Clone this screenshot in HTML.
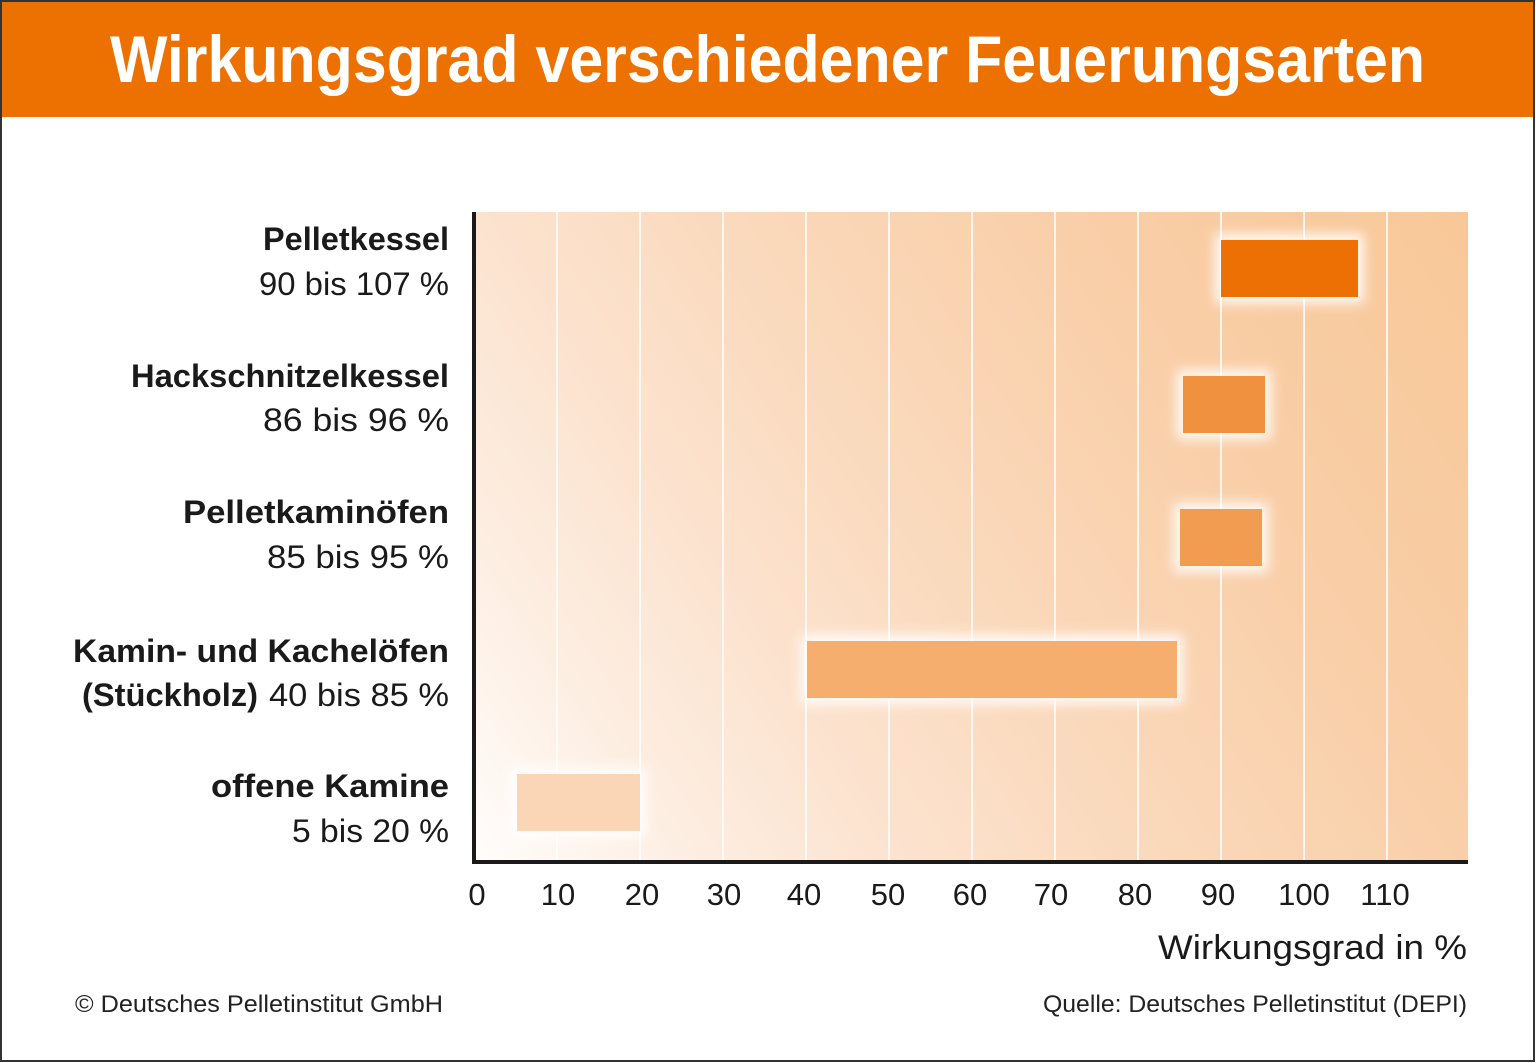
<!DOCTYPE html>
<html><head><meta charset="utf-8"><style>
html,body{margin:0;padding:0;background:#fff;}
svg{display:block;}
text{font-family:"Liberation Sans",sans-serif;}
</style></head><body>
<svg width="1536" height="1063" viewBox="0 0 1536 1063" xmlns="http://www.w3.org/2000/svg">
<defs>
<linearGradient id="bg" gradientUnits="userSpaceOnUse" x1="476" y1="862" x2="1468" y2="212">
<stop offset="0" stop-color="#fffdfb"/>
<stop offset="0.15" stop-color="#fdeee2"/>
<stop offset="0.3" stop-color="#fce3cf"/>
<stop offset="0.5" stop-color="#fad8ba"/>
<stop offset="0.7" stop-color="#f9cfa9"/>
<stop offset="1" stop-color="#f8c898"/>
</linearGradient>
<filter id="glow" x="-30%" y="-60%" width="160%" height="220%"><feGaussianBlur stdDeviation="6"/></filter>
</defs>
<rect x="0" y="0" width="1536" height="1063" fill="#fff"/>
<!-- header -->
<rect x="2" y="2" width="1531" height="115" fill="#ec7100"/>
<text x="110" y="82" font-size="66" font-weight="bold" fill="#fff" textLength="1315" lengthAdjust="spacingAndGlyphs">Wirkungsgrad verschiedener Feuerungsarten</text>
<!-- plot bg -->
<rect x="476" y="212" width="992" height="650" fill="url(#bg)"/>
<!-- grid -->
<g stroke="#fff" stroke-width="2" opacity="0.8">
<line x1="557" y1="212" x2="557" y2="860"/>
<line x1="640" y1="212" x2="640" y2="860"/>
<line x1="723" y1="212" x2="723" y2="860"/>
<line x1="806" y1="212" x2="806" y2="860"/>
<line x1="889" y1="212" x2="889" y2="860"/>
<line x1="972" y1="212" x2="972" y2="860"/>
<line x1="1055" y1="212" x2="1055" y2="860"/>
<line x1="1138" y1="212" x2="1138" y2="860"/>
<line x1="1221" y1="212" x2="1221" y2="860"/>
<line x1="1304" y1="212" x2="1304" y2="860"/>
<line x1="1387" y1="212" x2="1387" y2="860"/>
</g>
<!-- glows -->
<g fill="#fff" filter="url(#glow)" opacity="0.9">
<rect x="1215" y="234" width="149" height="69"/>
<rect x="1177" y="370" width="94" height="69"/>
<rect x="1174" y="503" width="94" height="69"/>
<rect x="801" y="635" width="382" height="69"/>
<rect x="511" y="768" width="135" height="69"/>
</g>
<!-- bars -->
<rect x="1221" y="240" width="137" height="57" fill="#ec7003"/>
<rect x="1183" y="376" width="82" height="57" fill="#f09140"/>
<rect x="1180" y="509" width="82" height="57" fill="#f29c52"/>
<rect x="807" y="641" width="370" height="57" fill="#f5ae6e"/>
<rect x="517" y="774" width="123" height="57" fill="#fbd6b6"/>
<!-- axes -->
<rect x="472" y="212" width="4" height="652" fill="#1a1a1a"/>
<rect x="472" y="860" width="996" height="4" fill="#1a1a1a"/>
<!-- category labels -->
<g fill="#1a1a1a" font-size="32" text-anchor="end">
<text x="449" y="250" font-weight="bold" textLength="186" lengthAdjust="spacingAndGlyphs">Pelletkessel</text>
<text x="449" y="295" textLength="190" lengthAdjust="spacingAndGlyphs">90 bis 107 %</text>
<text x="449" y="387" font-weight="bold" textLength="318" lengthAdjust="spacingAndGlyphs">Hackschnitzelkessel</text>
<text x="449" y="431" textLength="186" lengthAdjust="spacingAndGlyphs">86 bis 96 %</text>
<text x="449" y="523" font-weight="bold" textLength="266" lengthAdjust="spacingAndGlyphs">Pelletkaminöfen</text>
<text x="449" y="568" textLength="182" lengthAdjust="spacingAndGlyphs">85 bis 95 %</text>
<text x="449" y="662" font-weight="bold" textLength="376" lengthAdjust="spacingAndGlyphs">Kamin- und Kachelöfen</text>
<text x="449" y="706" textLength="180" lengthAdjust="spacingAndGlyphs">40 bis 85 %</text>
<text x="258" y="706" font-weight="bold" textLength="176" lengthAdjust="spacingAndGlyphs">(Stückholz)</text>
<text x="449" y="797" font-weight="bold" textLength="238" lengthAdjust="spacingAndGlyphs">offene Kamine</text>
<text x="449" y="842" textLength="157" lengthAdjust="spacingAndGlyphs">5 bis 20 %</text>
</g>
<!-- tick labels -->
<g fill="#1a1a1a" font-size="31" text-anchor="middle">
<text x="477" y="905">0</text>
<text x="558" y="905">10</text>
<text x="642" y="905">20</text>
<text x="724" y="905">30</text>
<text x="804" y="905">40</text>
<text x="888" y="905">50</text>
<text x="970" y="905">60</text>
<text x="1051" y="905">70</text>
<text x="1135" y="905">80</text>
<text x="1218" y="905">90</text>
<text x="1304" y="905">100</text>
<text x="1385" y="905">110</text>
</g>
<text x="1467" y="959" font-size="34" fill="#1a1a1a" text-anchor="end" textLength="309" lengthAdjust="spacingAndGlyphs">Wirkungsgrad in %</text>
<!-- footer -->
<text x="75" y="1012" font-size="24" fill="#222" textLength="368" lengthAdjust="spacingAndGlyphs">© Deutsches Pelletinstitut GmbH</text>
<text x="1467" y="1012" font-size="24" fill="#222" text-anchor="end" textLength="424" lengthAdjust="spacingAndGlyphs">Quelle: Deutsches Pelletinstitut (DEPI)</text>
<!-- border -->
<rect x="1" y="1" width="1533" height="1060" fill="none" stroke="#333" stroke-width="2"/>
</svg>
</body></html>
